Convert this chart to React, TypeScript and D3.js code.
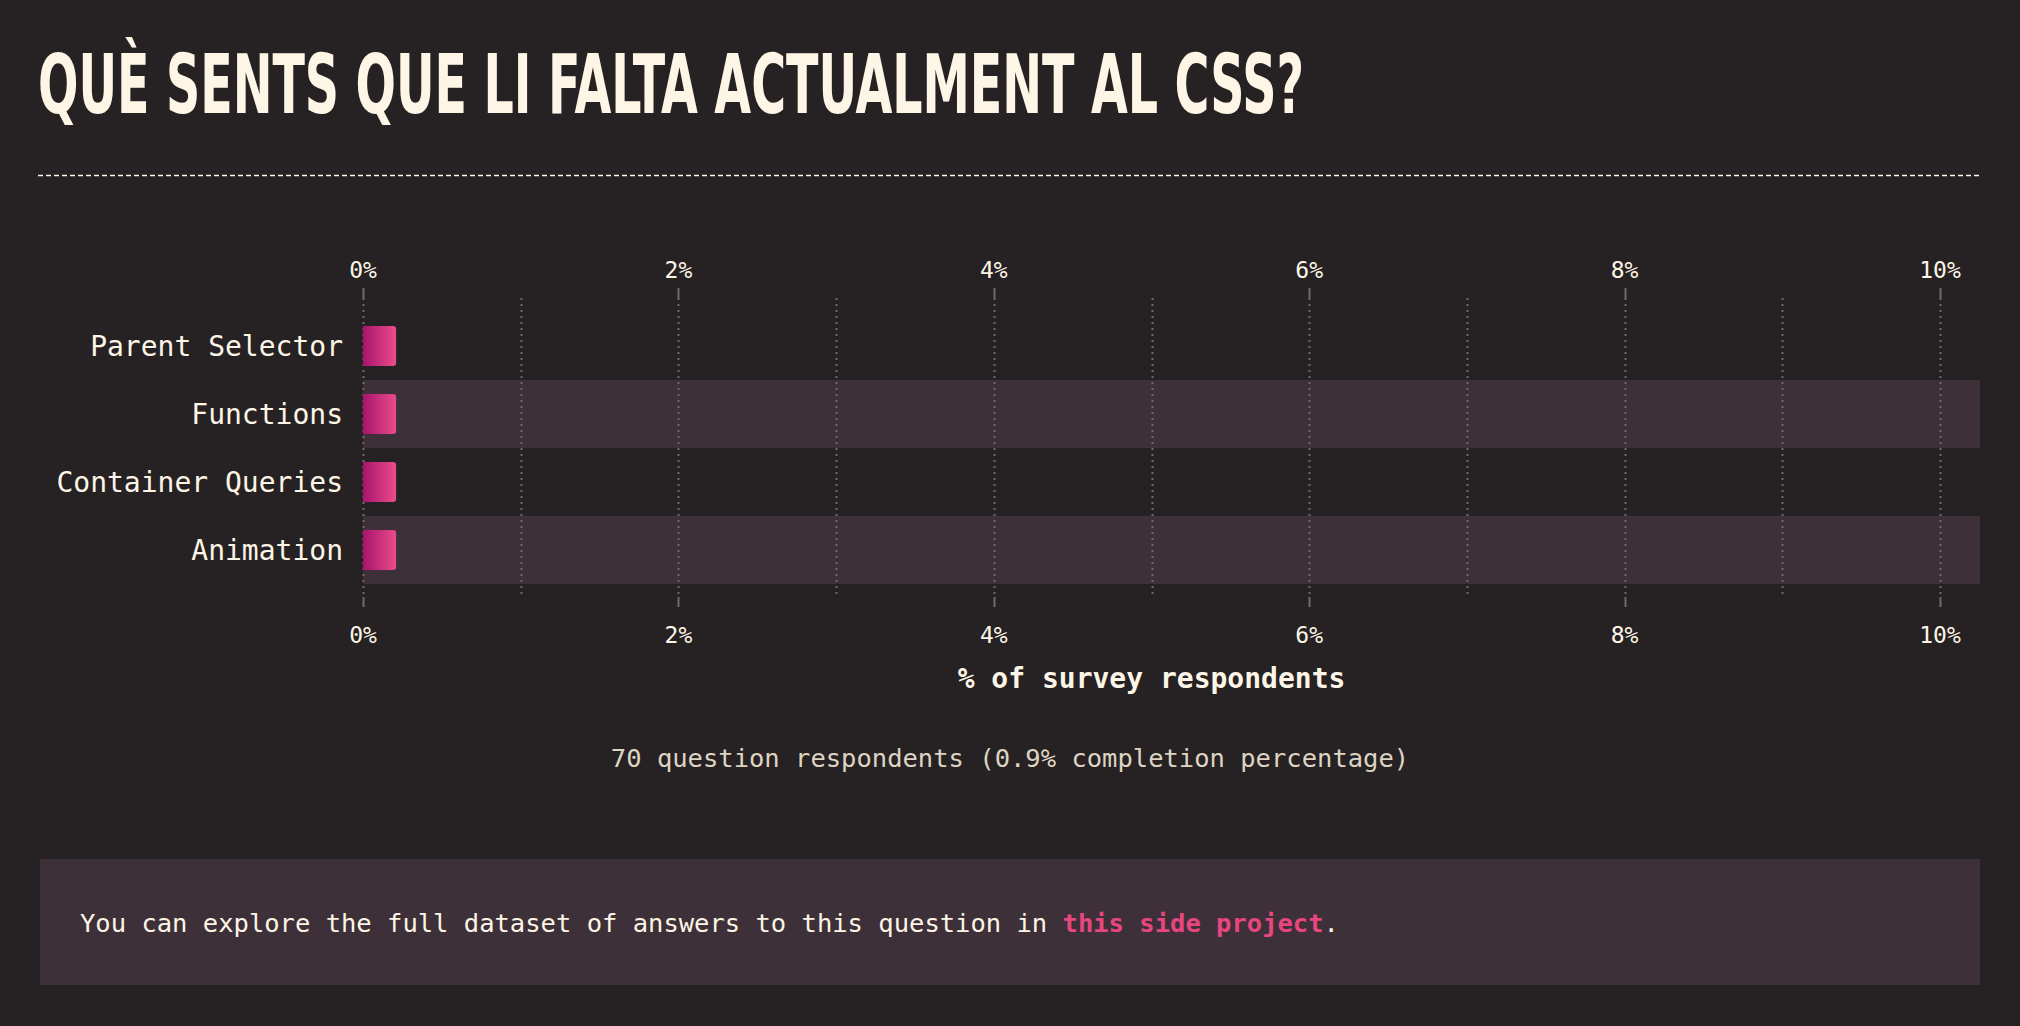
import React, { useEffect } from 'react'
import * as d3 from 'd3'

// values
const categories = ['Parent Selector', 'Functions', 'Container Queries', 'Animation']
const percents = [0.21, 0.21, 0.21, 0.21]
const gridTicks = [0, 1, 2, 3, 4, 5, 6, 7, 8, 9, 10]
const labelTicks = [0, 2, 4, 6, 8, 10]

const title = 'QUÈ SENTS QUE LI FALTA ACTUALMENT AL CSS?'
const axisTitle = '% of survey respondents'
const note = '70 question respondents (0.9% completion percentage)'

const BG = '#262224'
const STRIPE = '#3e3038'
const CREAM = '#fdf5e6'
const GRID = '#6f686c'
const PINK = '#e8467f'
const MONO = '"DejaVu Sans Mono", "Liberation Mono", monospace'

const App = () => {
  useEffect(() => {
    document.body.style.margin = '0'
    document.body.style.background = BG
  }, [])

  const x = d3.scaleLinear().domain([0, 10]).range([363, 1940])
  const y = d3.scaleBand<string>().domain(categories).range([312, 584]).paddingInner(0)
  const barH = 40

  return (
    <svg width={2020} height={1026} style={{ display: 'block', background: BG }}>
      <defs>
        <linearGradient id="barGrad" x1="0" x2="1" y1="0" y2="0">
          <stop offset="0%" stopColor="#a8136c" />
          <stop offset="100%" stopColor="#ea4c8b" />
        </linearGradient>
      </defs>

      <text
        x={38}
        y={113}
        fill={CREAM}
        fontFamily='"Liberation Sans Narrow", "DejaVu Sans Condensed", sans-serif'
        fontWeight="bold"
        fontSize={82}
        textLength={1266}
        lengthAdjust="spacingAndGlyphs"
      >
        {title}
      </text>
      <line x1={38} x2={1980} y1={175.5} y2={175.5} stroke={CREAM} strokeWidth={1.5} strokeDasharray="5 3" />

      {/* stripes on every other row */}
      {categories.map((c, i) =>
        i % 2 === 1 ? (
          <rect key={'s' + c} x={x(0)} y={y(c)} width={1980 - x(0)} height={y.bandwidth()} fill={STRIPE} />
        ) : null
      )}

      {/* grid */}
      {gridTicks.map((t) => {
        const major = t % 2 === 0
        const gx = Math.round(x(t)) + 0.5
        return (
          <g key={'g' + t}>
            <line x1={gx} x2={gx} y1={298} y2={595} stroke={GRID} strokeWidth={2} strokeDasharray="2 4" />
            {major && (
              <>
                <line x1={gx} x2={gx} y1={288} y2={298} stroke={GRID} strokeWidth={2} />
                <line x1={gx} x2={gx} y1={597} y2={607} stroke={GRID} strokeWidth={2} />
              </>
            )}
          </g>
        )
      })}

      {labelTicks.map((t) => (
        <g key={'l' + t} fontFamily={MONO} fontSize={23} fill={CREAM} textAnchor="middle">
          <text x={x(t)} y={278}>{t}%</text>
          <text x={x(t)} y={643}>{t}%</text>
        </g>
      ))}

      {/* bars */}
      {categories.map((c, i) => {
        const by = (y(c) as number) + (y.bandwidth() - barH) / 2
        const w = x(percents[i]) - x(0)
        const r = 3
        const x0 = x(0)
        const path = d3.path()
        path.moveTo(x0, by)
        path.lineTo(x0 + w - r, by)
        path.arcTo(x0 + w, by, x0 + w, by + r, r)
        path.lineTo(x0 + w, by + barH - r)
        path.arcTo(x0 + w, by + barH, x0 + w - r, by + barH, r)
        path.lineTo(x0, by + barH)
        path.closePath()
        return (
          <g key={'b' + c}>
            <path d={path.toString()} fill="url(#barGrad)" />
            <text
              x={343}
              y={(y(c) as number) + y.bandwidth() / 2 + 10}
              textAnchor="end"
              fontFamily={MONO}
              fontSize={28}
              fill={CREAM}
            >
              {c}
            </text>
          </g>
        )
      })}

      <text x={(x(0) + x(10)) / 2} y={688} textAnchor="middle" fontFamily={MONO} fontWeight="bold" fontSize={28} fill={CREAM}>
        {axisTitle}
      </text>

      <text x={1010} y={767} textAnchor="middle" fontFamily={MONO} fontSize={25.5} fill="#ded4c2">
        {note}
      </text>

      <rect x={40} y={859} width={1940} height={126} fill={STRIPE} />
      <text x={80} y={932} fontFamily={MONO} fontSize={25.5} fill={CREAM}>
        You can explore the full dataset of answers to this question in{' '}
        <tspan fill={PINK} fontWeight="bold">this side project</tspan>.
      </text>
    </svg>
  )
}

export default App
